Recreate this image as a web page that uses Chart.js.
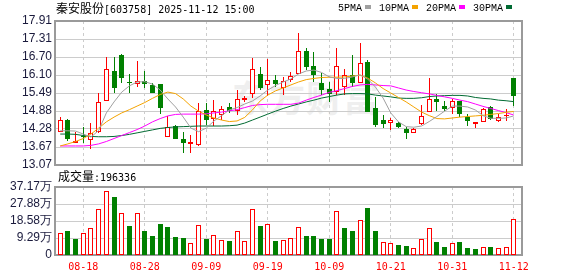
<!DOCTYPE html>
<html>
<head>
<meta charset="utf-8">
<script src="https://cdn.jsdelivr.net/npm/chart.js@4.4.1/dist/chart.umd.min.js"></script>
<style>
  body { margin: 0; width: 578px; height: 276px; background: #fff; position: relative; overflow: hidden; }
  canvas { position: absolute; left: 0; }
  #price { top: 0; }
  #volume { top: 170px; }
  #wm { position: absolute; left: 232px; top: 70px; font: bold 36px 'Noto Sans CJK SC'; color: #efefef; letter-spacing: 1px; white-space: nowrap; }
  .txt { position: absolute; white-space: nowrap; color: #000; line-height: 12px; }
  .cjk { font-family: 'Noto Sans CJK SC'; font-size: 12px; }
  .mono { font-family: 'DejaVu Sans Mono'; font-size: 10px; }
  #title { left: 56px; top: 2px; }
  #volTitle { left: 58px; top: 170px; }
  #legend { position: absolute; left: 338px; top: 3px; display: flex; gap: 8px; font-family: 'Liberation Mono'; font-size: 10px; line-height: 12px; color: #000; }
  #legend span.sw { display: inline-block; width: 6px; height: 4px; margin-left: 3px; vertical-align: 2px; }
</style>
</head>
<body>
<div id="wm">东方财富</div>
<canvas id="price" width="578" height="180"></canvas>
<canvas id="volume" width="578" height="106"></canvas>
<div id="title" class="txt"><span class="cjk">秦安股份</span><span class="mono">[603758] 2025-11-12 15:00</span></div>
<div id="volTitle" class="txt"><span class="cjk">成交量</span><span class="mono">:196336</span></div>
<div id="legend"></div>
<script>
// ---------------- data ----------------
const dates = [
  '08-13','08-14','08-15','08-18','08-19','08-20','08-21','08-22','08-25','08-26','08-27','08-28','08-29',
  '09-01','09-02','09-03','09-04','09-05','09-08','09-09','09-10','09-11','09-12','09-15','09-16','09-17','09-18','09-19',
  '09-22','09-23','09-24','09-25','09-26','09-29','09-30',
  '10-09','10-10','10-13','10-14','10-15','10-16','10-17','10-20','10-21','10-22','10-23','10-24','10-27','10-28','10-29','10-30','10-31',
  '11-03','11-04','11-05','11-06','11-07','11-10','11-11','11-12'
];
const axisDates = ['08-18','08-28','09-09','09-19','10-09','10-21','10-31','11-12'];

const opens  = [14.17,14.58,13.82,14.03,13.91,14.17,15.21,16.23,16.77,15.85,15.78,15.89,15.76,15.79,14.02,14.38,13.93,13.77,13.74,14.92,
                14.61,14.75,15.03,14.90,15.25,15.46,16.13,15.75,15.93,15.65,15.93,16.12,16.90,16.40,15.82,15.61,15.53,15.70,16.10,15.82,
                16.54,14.97,14.58,14.47,14.47,14.28,14.16,14.45,14.84,15.29,15.05,14.97,15.22,14.69,14.46,14.53,15.01,14.55,14.73,15.98];
const highs  = [14.67,14.62,14.17,14.34,14.47,15.48,16.71,16.71,16.80,16.13,16.57,16.24,15.82,15.79,14.72,14.40,14.19,14.08,15.14,15.14,
                15.25,15.05,15.14,15.59,15.39,16.66,16.37,16.62,16.10,16.02,16.21,17.52,17.01,16.88,16.15,15.87,16.99,16.29,16.77,17.18,
                16.60,15.37,14.75,14.64,14.52,14.36,14.30,15.09,15.98,15.46,15.22,15.30,15.22,14.78,14.51,14.97,15.05,14.77,14.94,15.98];
const lows   = [14.17,13.89,13.80,13.82,13.60,14.14,15.21,15.50,15.84,15.50,15.70,15.65,15.48,14.78,14.02,13.93,13.49,13.48,13.71,14.41,
                14.38,14.58,14.81,14.75,15.20,15.33,15.59,15.39,15.70,15.42,15.87,16.12,16.26,15.87,15.42,15.20,15.42,15.42,15.70,15.82,
                14.86,14.35,14.30,14.24,14.30,13.93,14.14,14.41,14.84,14.90,14.90,14.78,14.67,14.38,14.30,14.51,14.58,14.52,14.56,15.05];
const closes = [14.58,13.93,13.88,14.01,14.15,15.18,16.29,15.67,16.00,15.83,15.89,15.78,15.50,14.97,14.36,13.95,13.80,13.84,14.90,14.58,
                14.90,14.94,14.90,15.28,15.31,16.29,15.65,15.92,15.78,15.90,16.07,16.90,16.37,16.10,15.59,15.46,16.40,16.10,15.84,16.49,
                14.86,14.41,14.45,14.58,14.34,14.16,14.28,14.73,15.28,15.18,14.95,15.23,14.78,14.56,14.51,14.94,14.61,14.69,14.76,15.40];

// volume, in 万 (10k)
const volumes = [11.8,13.1,8.7,11.8,14.5,24.9,34.8,31.6,22.7,15.8,22.7,13.2,10.3,16.9,15.4,10.0,9.3,6.4,16.5,8.7,
                 10.7,8.2,7.6,12.9,7.4,24.9,16.1,16.7,7.6,8.2,9.1,15.1,10.3,10.3,8.7,8.7,23.9,14.7,13.2,19.4,
                 25.6,13.2,7.1,6.4,5.4,4.9,3.6,8.7,14.5,7.1,4.4,6.4,7.1,3.8,3.3,4.2,4.2,3.6,4.2,19.63];

const ma5  = [14.22,14.22,14.21,14.11,14.01,14.23,14.82,15.19,15.52,15.73,15.86,15.87,15.79,15.59,15.29,15.02,14.68,14.31,14.19,14.31,
              14.55,14.73,14.92,15.00,15.12,15.22,15.39,15.59,15.74,15.86,15.96,16.13,16.23,16.26,16.18,16.03,15.98,15.98,16.03,16.10,
              15.96,15.69,15.32,14.82,14.52,14.36,14.34,14.38,14.53,14.70,14.88,15.05,15.05,15.02,14.92,14.73,14.64,14.64,14.65,14.72];
const ma10 = [13.71,13.78,13.86,13.96,14.11,14.31,14.52,14.68,14.82,14.93,15.05,15.17,15.31,15.44,15.52,15.47,15.29,15.05,14.88,14.75,
              14.65,14.58,14.53,14.55,14.67,14.92,15.22,15.42,15.56,15.66,15.76,15.86,15.94,15.98,16.01,16.02,16.02,16.03,16.06,16.09,
              15.99,15.83,15.64,15.49,15.34,15.19,15.02,14.85,14.73,14.63,14.62,14.65,14.68,14.70,14.72,14.74,14.77,14.80,14.84,14.87];
const ma20 = [13.71,13.71,13.71,13.71,13.73,13.78,13.86,13.96,14.06,14.16,14.26,14.38,14.52,14.63,14.72,14.77,14.78,14.78,14.78,14.79,
              14.82,14.85,14.89,14.93,15.00,15.07,15.10,15.11,15.11,15.11,15.11,15.15,15.25,15.34,15.42,15.51,15.57,15.64,15.71,15.76,
              15.78,15.76,15.74,15.73,15.66,15.59,15.54,15.50,15.46,15.41,15.36,15.31,15.25,15.20,15.12,15.04,14.97,14.90,14.83,14.75];
const ma30 = [14.11,14.11,14.10,14.06,14.03,14.02,14.02,14.03,14.06,14.10,14.15,14.20,14.25,14.30,14.33,14.35,14.36,14.37,14.38,14.38,
              14.38,14.38,14.39,14.41,14.48,14.58,14.68,14.78,14.88,14.97,15.05,15.12,15.19,15.25,15.32,15.37,15.42,15.46,15.47,15.47,
              15.46,15.42,15.39,15.36,15.32,15.31,15.31,15.33,15.37,15.39,15.40,15.41,15.41,15.39,15.34,15.31,15.29,15.25,15.23,15.20];

const maNames  = ['5PMA', '10PMA', '20PMA', '30PMA'];
const maColors = ['#a0a0a0', '#f4a300', '#ff00ff', '#006a32'];

const priceMin = 13.07, priceMax = 17.91;
const priceTicks = ['13.07','13.67','14.28','14.88','15.49','16.10','16.70','17.31','17.91'];
const volMax = 37.17;
const volTicks = ['0','9.29万','18.58万','27.88万','37.17万'];

// ---------------- helpers ----------------
const RED = '#ff0000', GREEN = '#008000';
const xMin = -0.68, xMax = 60.07;   // a little room left and right of the first/last candle

const pts = arr => arr.map((v, i) => ({x: i, y: v}));
const candleUp = closes.map((c, i) => c >= opens[i]);
const volUp = closes.map((c, i) => i === 0 || c >= closes[i - 1]);

function xAxis(showLabels) {
  return {
    type: 'linear', min: xMin, max: xMax, offset: false,
    afterBuildTicks: s => { s.ticks = axisDates.map(d => ({value: dates.indexOf(d)})); },
    afterFit: s => { s.height = showLabels ? 21 : 0; },
    grid: { color: '#cccccc', drawTicks: false, offset: false },
    border: { display: false, dash: [3, 3] },
    ticks: {
      display: showLabels, autoSkip: false, maxRotation: 0, padding: 6, color: RED,
      font: { family: 'DejaVu Sans Mono', size: 10 },
      callback: v => dates[v]
    }
  };
}

function yAxis(min, max, labels) {
  return {
    min: min, max: max,
    afterBuildTicks: s => {
      s.ticks = labels.map((_, k) => ({value: min + (max - min) * k / (labels.length - 1)}));
    },
    afterFit: s => { s.width = 55; },
    grid: { color: '#cccccc', drawTicks: false },
    border: { display: false },
    ticks: {
      autoSkip: false, padding: 3, color: '#1a1a3c',
      font: { family: 'Liberation Sans', size: 12 },
      callback: (v, k) => labels[k]
    }
  };
}

// grey box round the plot area
const framePlugin = {
  id: 'frame',
  beforeDatasetsDraw(chart) {
    const {ctx, chartArea: a} = chart;
    ctx.save();
    ctx.strokeStyle = '#9a9a9a';
    ctx.lineWidth = 2;
    ctx.strokeRect(a.left, a.top, a.right - a.left, a.bottom - a.top);
    ctx.restore();
  }
};

// snap bar edges to whole pixels so the thin borders stay crisp
const snapPlugin = {
  id: 'snap',
  afterDatasetsUpdate(chart) {
    chart.data.datasets.forEach((ds, k) => {
      const meta = chart.getDatasetMeta(k);
      if (meta.type !== 'bar') return;
      meta.data.forEach(el => {
        el.x = Math.floor(el.x) + 0.5;
        el.y = Math.round(el.y);
        el.base = Math.round(el.base);
        if (Math.abs(el.base - el.y) < 1) el.base = el.y + 1;
      });
    });
  }
};

const common = {
  responsive: false,
  animation: false,
  plugins: { legend: { display: false }, tooltip: { enabled: false } }
};

// ---------------- price chart ----------------
new Chart(document.getElementById('price'), {
  type: 'bar',
  data: {
    datasets: [
      ...[ma5, ma10, ma20, ma30].map((m, k) => ({
        type: 'line', label: maNames[k], data: pts(m),
        borderColor: maColors[k], borderWidth: 1, pointRadius: 0, tension: 0, order: 0
      })),
      {
        label: 'body', data: opens.map((o, i) => ({x: i, y: [o, closes[i]]})),
        backgroundColor: candleUp.map(u => u ? '#ffffff' : GREEN),
        borderColor: candleUp.map(u => u ? RED : GREEN),
        borderWidth: 1, borderSkipped: false, barThickness: 5, grouped: false,
        inflateAmount: 0, minBarLength: 1, order: 1
      },
      {
        label: 'wick', data: lows.map((l, i) => ({x: i, y: [l, highs[i]]})),
        backgroundColor: candleUp.map(u => u ? RED : GREEN),
        borderWidth: 0, barThickness: 1, grouped: false, inflateAmount: 0, order: 2
      }
    ]
  },
  options: {
    ...common,
    layout: { padding: { top: 21, right: 56, bottom: 15, left: 0 } },
    scales: { x: xAxis(false), y: yAxis(priceMin, priceMax, priceTicks) }
  },
  plugins: [framePlugin, snapPlugin]
});

// ---------------- volume chart ----------------
new Chart(document.getElementById('volume'), {
  type: 'bar',
  data: {
    datasets: [{
      label: '成交量', data: pts(volumes),
      backgroundColor: volUp.map(u => u ? '#ffffff' : GREEN),
      borderColor: volUp.map(u => u ? RED : GREEN),
      borderWidth: 1, borderSkipped: false, barThickness: 5, inflateAmount: 0
    }]
  },
  options: {
    ...common,
    layout: { padding: { top: 17, right: 56, bottom: 0, left: 0 } },
    scales: { x: xAxis(true), y: yAxis(0, volMax, volTicks) }
  },
  plugins: [framePlugin, snapPlugin]
});

// ---------------- legend (text first, then the colour chip) ----------------
const legend = document.getElementById('legend');
maNames.forEach((n, k) => {
  const item = document.createElement('span');
  item.innerHTML = n + '<span class="sw" style="background:' + maColors[k] + '"></span>';
  legend.appendChild(item);
});
</script>
</body>
</html>
